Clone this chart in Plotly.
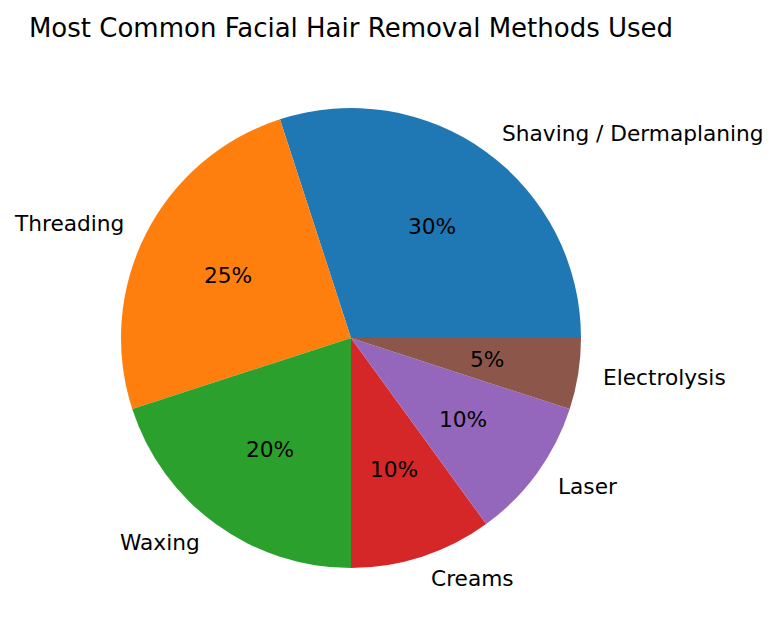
import numpy as np
import plotly.graph_objects as go

labels = ["Shaving / Dermaplaning", "Threading", "Waxing", "Creams", "Laser", "Electrolysis"]
shares = [30, 25, 20, 10, 10, 5]
colors = ["#1f77b4", "#ff7f0e", "#2ca02c", "#d62728", "#9467bd", "#8c564b"]

# page body has an 8px margin, so the figure is a bit smaller than the window
PAD = 8
W, H = 778 - 2 * PAD, 642 - 2 * PAD
cx, cy, r = 351 - PAD, 338 - PAD, 230  # pie centre and radius in pixels


def px(x, y):
    return x / W, 1 - y / H


total = sum(shares)
first_end = 360 * shares[0] / total  # first slice runs from 3 o'clock counterclockwise

fig = go.Figure()
fig.add_trace(
    go.Pie(
        labels=labels,
        values=shares,
        marker=dict(colors=colors, line=dict(width=0)),
        sort=False,
        direction="counterclockwise",
        rotation=90 - first_end,
        textinfo="none",
        hovertemplate="%{label}: %{percent}<extra></extra>",
        showlegend=False,
        domain=dict(x=[(cx - r) / W, (cx + r) / W], y=[1 - (cy + r) / H, 1 - (cy - r) / H]),
    )
)

# labels at 1.1 r and percentages at 0.6 r, like matplotlib
start = 0.0
annotations = []
for lab, val in zip(labels, shares):
    frac = val / total
    mid = 2 * np.pi * (start + frac / 2)
    start += frac
    c, s = np.cos(mid), np.sin(mid)
    lx, ly = px(cx + 1.1 * r * c, cy - 1.1 * r * s)
    annotations.append(dict(
        x=lx, y=ly, xref="paper", yref="paper", text=lab, showarrow=False,
        xanchor="left" if c > 0 else "right", yanchor="middle",
        font=dict(size=21.7, color="black"),
    ))
    tx, ty = px(cx + 0.6 * r * c, cy - 0.6 * r * s)
    annotations.append(dict(
        x=tx, y=ty, xref="paper", yref="paper", text=f"{val / total * 100:.0f}%", showarrow=False,
        xanchor="center", yanchor="middle",
        font=dict(size=21.7, color="black"),
    ))

tx, ty = px(351 - PAD, 28 - PAD)
fig.update_layout(
    width=W, height=H,
    margin=dict(l=0, r=0, t=0, b=0),
    paper_bgcolor="white",
    font=dict(family="DejaVu Sans"),
    title=dict(
        text="Most Common Facial Hair Removal Methods Used",
        x=tx, xanchor="center", y=ty, yanchor="middle",
        font=dict(size=26, color="black"),
    ),
    annotations=annotations,
)

fig.write_html("out.html")
